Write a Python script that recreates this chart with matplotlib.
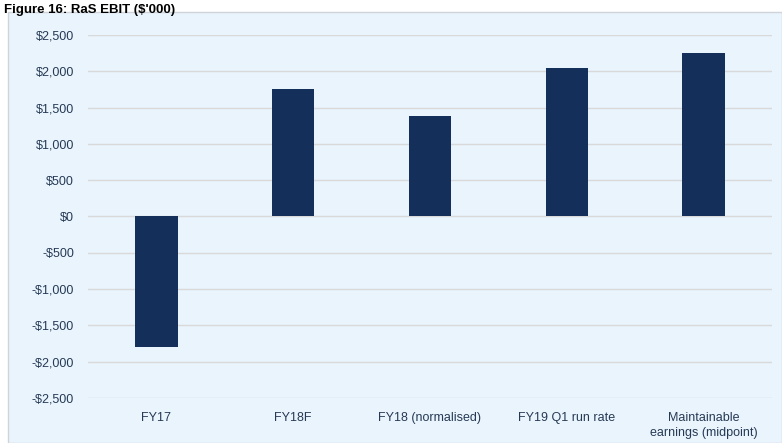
import matplotlib
matplotlib.use("Agg")
import matplotlib.pyplot as plt
from matplotlib.patches import Rectangle
from matplotlib.ticker import FuncFormatter

categories = ["FY17", "FY18F", "FY18 (normalised)", "FY19 Q1 run rate", "Maintainable\nearnings (midpoint)"]
values = [-1800, 1760, 1380, 2050, 2250]
yticks = [-2500, -2000, -1500, -1000, -500, 0, 500, 1000, 1500, 2000, 2500]
title = "Figure 16: RaS EBIT ($'000)"

plt.rcParams['font.family'] = ['Liberation Sans', 'DejaVu Sans']

W, H = 782, 443
fig = plt.figure(figsize=(W / 100, H / 100), dpi=100)
fig.patch.set_facecolor('white')

# chart area background
bg = Rectangle((8 / W, 0), 1 - 8 / W, 1 - 12 / H, transform=fig.transFigure,
               facecolor='#EAF4FD', edgecolor='#D0D4D8', linewidth=1.0, zorder=-10)
fig.patches.append(bg)

fig.text(4 / W, 1 - 12.5 / H, title, fontsize=9.5, fontweight='bold', color='black',
         ha='left', va='baseline')

ax = fig.add_axes([88 / W, 1 - 398 / H, (772 - 88) / W, (398 - 35) / H])
ax.set_facecolor('none')
x = list(range(len(categories)))
ax.bar(x, values, width=0.31, color='#14305A', zorder=3)
ax.set_xlim(-0.5, len(categories) - 0.5)
ax.set_ylim(-2500, 2500)
ax.set_yticks(yticks)

def fmt(v, pos):
    v = int(round(v))
    return ("-$" if v < 0 else "$") + f"{abs(v):,}"

ax.yaxis.set_major_formatter(FuncFormatter(fmt))
ax.set_xticks(x)
ax.set_xticklabels(categories, fontsize=9, color='#263A55', linespacing=1.4)
ax.tick_params(axis='y', labelsize=9, labelcolor='#263A55', length=0, pad=10)
ax.tick_params(axis='x', length=0, pad=10)
ax.grid(axis='y', color='#D9D9D9', linewidth=1.0, zorder=0)
for s in ax.spines.values():
    s.set_visible(False)

fig.savefig("out.png", dpi=100)
